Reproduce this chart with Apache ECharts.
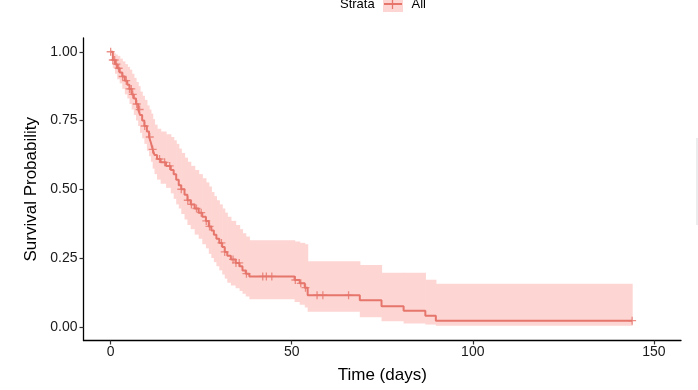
<!DOCTYPE html>
<html>
<head>
<meta charset="utf-8">
<script src="https://cdn.jsdelivr.net/npm/echarts@6/dist/echarts.min.js"></script>
<style>
html,body{margin:0;padding:0;background:#fff;}
#chart{width:698px;height:390px;}
</style>
</head>
<body>
<div id="chart"></div>
<script>
// Kaplan-Meier step points (time in days)
var times = [0,0.6,1.2,1.8,2.5,3.2,3.9,4.6,5.2,5.8,6.4,7,7.6,8.1,8.7,9.3,10,10.6,11.1,11.6,12.1,12.8,13.8,15.3,16.6,17.4,18.1,18.8,19.5,20.4,21.2,22.1,23.2,24.3,25.3,26.3,27.1,27.8,28.5,29.2,30,30.8,31.5,32.2,33.2,34.5,35.6,36.4,37.3,38.3,50.8,52.2,53.6,54.4,68.8,74.8,80.9,86.9,89.8,144];
var survival = [1.00,0.97,0.955,0.94,0.925,0.91,0.895,0.88,0.865,0.845,0.83,0.81,0.79,0.77,0.75,0.73,0.71,0.69,0.67,0.645,0.625,0.61,0.598,0.585,0.57,0.555,0.535,0.515,0.50,0.48,0.46,0.445,0.43,0.415,0.40,0.385,0.365,0.35,0.335,0.32,0.305,0.29,0.272,0.258,0.245,0.232,0.22,0.205,0.193,0.183,0.17,0.158,0.142,0.115,0.096,0.075,0.058,0.04,0.022,0.022];
var upperCI = [1.00,0.995,0.99,0.985,0.975,0.965,0.955,0.945,0.935,0.92,0.905,0.89,0.875,0.855,0.84,0.825,0.805,0.79,0.775,0.755,0.735,0.72,0.71,0.70,0.69,0.678,0.665,0.648,0.632,0.615,0.60,0.585,0.57,0.555,0.54,0.525,0.51,0.49,0.475,0.46,0.445,0.43,0.415,0.40,0.385,0.37,0.355,0.34,0.328,0.315,0.31,0.305,0.30,0.238,0.225,0.196,0.196,0.171,0.156,0.156];
var lowerCI = [1.00,0.94,0.92,0.90,0.885,0.865,0.845,0.83,0.81,0.79,0.77,0.75,0.73,0.705,0.685,0.665,0.64,0.62,0.60,0.575,0.555,0.535,0.52,0.505,0.485,0.465,0.445,0.43,0.41,0.39,0.37,0.355,0.335,0.32,0.30,0.285,0.265,0.25,0.235,0.22,0.205,0.19,0.175,0.16,0.15,0.14,0.13,0.12,0.11,0.10,0.09,0.08,0.07,0.055,0.035,0.02,0.012,0.008,0.004,0.004];
// censored observation times
var censorTimes = [0,0.6,1.1,1.6,2.2,3.3,4.3,5.2,5.7,6.1,7.2,8,9.4,10.8,11.6,13.5,14.9,16.3,19.5,21.3,22.3,23.7,25,26.4,27.3,30.6,31.5,33.8,34.6,35.5,37.5,42,43,44.5,51,52.5,53.8,57,58.6,65.7,144];
var xTicks = [0,50,100,150];
var yTicks = [0,0.25,0.5,0.75,1];

function survAt(t){
  var s = survival[0];
  for (var i=0;i<times.length;i++){ if (times[i] <= t) s = survival[i]; else break; }
  return s;
}

var lineData = times.map(function(t,i){return [t, survival[i]];});
// band segments: [start, end, lower, upper]
var bandData = [];
for (var i=0;i<times.length-1;i++){ bandData.push([times[i], times[i+1], lowerCI[i], upperCI[i]]); }
var censorData = censorTimes.map(function(t){return [t, survAt(t)];});

var lineColor = '#E6756C';
var bandColor = '#FDD6D3';
var font = '"Liberation Sans", Arial, sans-serif';

var chart = echarts.init(document.getElementById('chart'), null, {renderer:'canvas'});
chart.setOption({
  backgroundColor:'#ffffff',
  animation:false,
  grid:{left:83.5, right:17, top:38, bottom:49.5, containLabel:false},
  xAxis:{
    type:'value', min:-7.5, max:157.5,
    name:'Time (days)', nameLocation:'middle', nameGap:26,
    nameTextStyle:{fontFamily:font, fontSize:17, color:'#000'},
    axisLine:{show:true, onZero:false, lineStyle:{color:'#000', width:1.3}},
    axisTick:{show:true, length:4, lineStyle:{color:'#333', width:1.2}, customValues:xTicks},
    axisLabel:{fontFamily:font, fontSize:14, color:'#1a1a1a', margin:5, customValues:xTicks},
    splitLine:{show:false}
  },
  yAxis:{
    type:'value', min:-0.05, max:1.05,
    name:'Survival Probability', nameLocation:'middle', nameGap:37,
    nameTextStyle:{fontFamily:font, fontSize:17, color:'#000'},
    axisLine:{show:true, onZero:false, lineStyle:{color:'#000', width:1.3}},
    axisTick:{show:true, length:4, lineStyle:{color:'#333', width:1.2}, customValues:yTicks},
    axisLabel:{fontFamily:font, fontSize:14, color:'#1a1a1a', margin:6, customValues:yTicks,
      formatter:function(v){return v.toFixed(2);}},
    splitLine:{show:false}
  },
  series:[
    {type:'custom', name:'CI', data:bandData, silent:true, z:1,
     encode:{x:[0,1], y:[2,3]},
     renderItem:function(params, api){
       var p0 = api.coord([api.value(0), api.value(3)]);
       var p1 = api.coord([api.value(1), api.value(2)]);
       return {type:'rect', shape:{x:p0[0], y:p0[1], width:p1[0]-p0[0]+0.6, height:p1[1]-p0[1]},
               style:{fill:bandColor}};
     }},
    {type:'line', name:'All', data:lineData, step:'end', symbol:'none',
     lineStyle:{color:lineColor, width:2}, z:3},
    {type:'scatter', name:'censor', data:censorData,
     symbol:'path://M5,0L5,10M0,5L10,5', symbolSize:8,
     itemStyle:{color:'none', borderColor:lineColor, borderWidth:1.3}, z:4}
  ],
  graphic:[
    {type:'text', left:340, top:-2, style:{text:'Strata', fontFamily:font, fontSize:13, fill:'#000'}},
    {type:'rect', shape:{x:383, y:-2, width:20, height:14}, style:{fill:bandColor}},
    {type:'line', shape:{x1:384, y1:4, x2:402, y2:4}, style:{stroke:lineColor, lineWidth:2}},
    {type:'line', shape:{x1:392.5, y1:0, x2:392.5, y2:9}, style:{stroke:lineColor, lineWidth:1.3}},
    {type:'text', left:411.5, top:-2, style:{text:'All', fontFamily:font, fontSize:13, fill:'#000'}},
    {type:'line', shape:{x1:697, y1:138, x2:697, y2:225}, style:{stroke:'#e6e6e6', lineWidth:1.5}}
  ]
});
</script>
</body>
</html>
